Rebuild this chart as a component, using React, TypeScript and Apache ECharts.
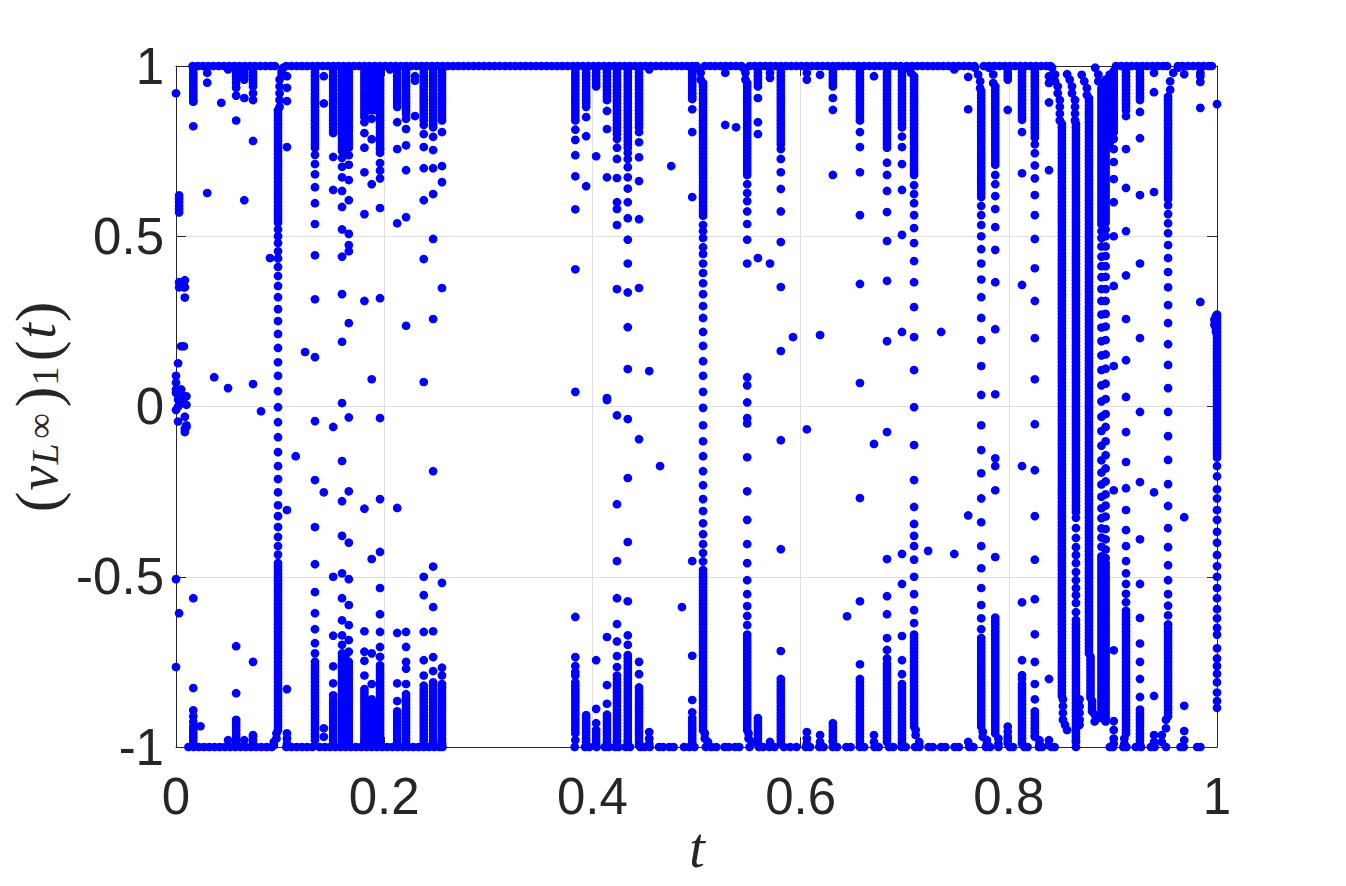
import React, { useEffect, useRef } from "react";
import * as echarts from "echarts";

const xTicks = [0, 0.2, 0.4, 0.6, 0.8, 1];
const yTicks = [-1, -0.5, 0, 0.5, 1];

// t values of the points sitting on the upper limit y = 1
const upperRunT = [
  .016,.021,.026,.031,.036,.041,.046,.051,.056,.061,.066,.071,.076,.081,.086,.091,.095,.106,.111,.116,.121,.126,.131,.136,.141,.146,.151,.156,.161,.166,.171,.176,.181,.186,.191,.196,.201,.206,.211,.216,.221,.226,.231,.236,.241,.246,.251,.256,.261,.266,.271,.276,.281,.286,.291,.296,.301,.306,.311,.316,.321,.326,.331,.336,.341,.346,.351,.356,.361,.366,.371,.376,.381,.386,.391,.396,.401,.406,.411,.416,.421,.426,.431,.436,.441,.446,.451,.456,.461,.466,.471,.476,.481,.486,.491,.496,.5,.508,.513,.518,.523,.528,.533,.538,.543,.551,.556,.561,.566,.571,.576,.581,.586,.591,.596,.601,.606,.611,.616,.621,.626,.631,.636,.641,.646,.651,.656,.661,.666,.671,.676,.681,.686,.691,.696,.702,.707,.712,.717,.722,.727,.732,.737,.742,.747,.752,.757,.762,.767,.776,.781,.786,.791,.796,.801,.806,.811,.816,.821,.826,.831,.836,.84,
  .903,.908,.913,.918,.923,.928,.933,.938,.943,.948,.952,.9625,.967,.972,.977,.982,.987,.992,.995,
];

// t values of the points sitting on the lower limit y = -1
const lowerRunT = [
  .012,.017,.022,.027,.032,.037,.042,.047,.052,.057,.062,.067,.072,.077,.082,.087,.092,.106,.111,.116,.121,.126,.131,
  .138,.143,.148,.153,.158,.163,.168,.173,.178,.183,.188,.193,.198,.203,.208,.213,.218,.223,.228,.233,.238,.243,.248,.253,.256,
  .383,.393,.397,.404,.412,.416,.422,.425,.432,.436,.446,.45,.455,.464,.468,.474,.478,.488,.493,.498,.509,.514,.519,.527,.531,.537,.541,.551,.56,.564,.57,.575,.584,.59,.596,.605,.609,.618,.622,.631,.635,.644,.648,.657,.661,.671,.675,.685,.689,.697,.701,.71,.714,.723,.727,.735,.739,.748,.752,.762,.766,.778,.782,.79,.801,.804,.815,.818,.829,.832,.841,.844,.8645,
  .897,.9,.91,.913,.922,.927,.9365,.94,.951,.965,.968,.981,.984,
];

// every strand is [t, y, y, ...]
const leftEdge = [
  [0,.92,.09,.07,.05,.04,-.01,-.507,-.765],
  [.003,.62,.61,.6,.59,.58,.57,.365,.35,-.607],
  [.002,.127,.02,0,-.044],
  [.005,.177,.05,.02,.01],
  [.0075,.36,.35,.177,.03,.01],
  [.0085,.371,.35,.32,-.075,-.065,-.03],
  [.01,.03,-.055,-.06,.005],
];

const firstBlock = [
  [.0166,.98,.96,.94,.92,.9,.895,.823,-.563,-.827,-.892,-.926,-.94,-.96,-.98],
  [.0235,-.939],
  [.03,.98,.951,.627],
  [.0367,.086],
  [.0435,.892],
  [.05,.99,.054,-.98],
  [.0578,.98,.96,.936,.913,.84,-.704,-.842,-.92,-.94,-.96,-.98],
  [.0656,.98,.96,.906,.606,-.98],
  [.074,.98,.96,.94,.9,.78,.066,-.75,-.965,-.98],
  [.0817,-.014],
  [.0903,.436],
  [.103,.995],
  [.1015,.985,.975],
  [.0995,.96,.94,.92,.9,.88],
  [.098,.86,.84,.82,.8,.78,.76,.74,.72,.7,.68,.66,.64,.62,.6,.58,.56,.54,.52,.5,.48,.456,.435,.41,.383,.354,.321,.286,.251,.213,.172,.13,.09,.045,-.002,-.046,-.09,-.134,-.175,-.213,-.252,-.29,-.322,-.354,-.383,-.41,-.435,-.46,-.48,-.5,-.52,-.54,-.56,-.58,-.6,-.62,-.64,-.66,-.68,-.7,-.72,-.74,-.76,-.78,-.8,-.82,-.84,-.86,-.88,-.9,-.92,-.94],
  [.0965,-.96,-.975],
  [.094,-.985,-.995],
  [.1066,.97,.936,.897,.762,-.304,-.83,-.96,-.975,-.99],
  [.115,-.146],
  [.124,.16],
  [.1335,.98,.96,.94,.92,.9,.88,.86,.84,.82,.8,.78,.76,.739,.712,.682,.644,.597,.536,.444,.315,.145,-.043,-.216,-.354,-.463,-.545,-.607,-.654,-.695,-.725,-.75,-.77,-.79,-.81,-.83,-.85,-.87,-.89,-.91,-.93,-.95,-.97,-.98],
  [.142,.97,.89,-.252,-.945,-.97],
  [.151,.98,.96,.94,.92,.9,.88,.86,.84,.82,.803,.733,.636,-.06,-.5,-.673,-.763,-.813,-.848,-.87,-.89,-.91,-.93,-.95,-.97,-.98],
  [.1595,.98,.96,.94,.92,.9,.88,.86,.84,.82,.8,.78,.76,.73,.704,.673,.633,.586,.52,.44,.33,.19,.01,-.16,-.278,-.38,-.49,-.563,-.628,-.672,-.7,-.725,-.745,-.765,-.785,-.805,-.825,-.845,-.865,-.885,-.905,-.925,-.945,-.965,-.985],
  [.1628,.98,.96,.94,.92,.9,.88,.86,.84,.82,.8,.78,.76,-.74,-.76,-.78,-.8,-.82,-.84,-.86,-.88,-.9,-.92,-.94,-.96,-.98],
  [.166,.98,.96,.94,.92,.9,.88,.86,.84,.82,.8,.78,.76,.738,.71,.665,.606,.507,.474,.456,.245,-.032,-.249,-.4,-.507,-.583,-.642,-.686,-.72,-.75,-.77,-.79,-.81,-.83,-.85,-.87,-.89,-.91,-.93,-.95,-.97,-.985],
  [.181,.98,.96,.94,.92,.9,.88,.86,.835,.803,.76,.688,.565,.31,-.3,-.66,-.72,-.747,-.79,-.83,-.85,-.87,-.89,-.91,-.93,-.95,-.97,-.985],
  [.1845,.98,.96,.94,.92,.9,.88,-.88,-.9,-.92,-.94,-.96,-.98],
  [.188,.98,.96,.94,.92,.9,.88,.845,.785,.653,.08,-.448,-.725,-.815,-.86,-.91,-.93,-.95,-.97,-.985],
  [.192,.98,.96,.94,.92,.9,.87,-.87,-.89,-.91,-.93,-.95,-.97],
  [.196,.98,.96,.94,.92,.9,.88,.86,.84,.82,.8,.78,.76,.745,.715,.693,.67,.583,.318,-.034,-.272,-.427,-.533,-.61,-.662,-.706,-.735,-.76,-.78,-.8,-.82,-.84,-.86,-.88,-.9,-.92,-.94,-.96,-.98],
  [.2055,.99],
  [.2125,.98,.96,.94,.92,.9,.88,.835,.756,.538,-.298,-.665,-.813,-.865,-.895,-.915,-.935,-.955,-.975],
  [.221,.98,.96,.94,.92,.9,.88,.86,.845,.815,.767,.694,.556,.237,-.662,-.706,-.75,-.77,-.815,-.845,-.865,-.885,-.905,-.925,-.945,-.965,-.985],
  [.2296,.97,.957,.853],
  [.238,.98,.96,.94,.92,.9,.88,.86,.84,.827,.8,.762,.7,.606,.433,.072,-.5,-.554,-.662,-.745,-.79,-.82,-.84,-.86,-.88,-.9,-.92,-.94,-.96,-.98],
  [.247,.98,.96,.94,.92,.9,.88,.86,.84,.82,.792,.753,.7,.624,.492,.257,-.19,-.47,-.589,-.66,-.736,-.777,-.81,-.83,-.85,-.87,-.89,-.91,-.93,-.95,-.97,-.985],
  [.2555,.98,.96,.94,.92,.9,.88,.86,.84,.806,.706,.659,.348,-.518,-.767,-.79,-.815,-.835,-.855,-.875,-.895,-.915,-.935,-.955,-.975,-.99],
];

const secondBlock = [
  [.3836,.98,.96,.94,.92,.9,.88,.86,.84,.813,.783,.738,.676,.579,.403,.043,-.618,-.736,-.762,-.78,-.81,-.83,-.85,-.87,-.89,-.91,-.93,-.95],
  [.394,.98,.96,.94,.92,.9,.88,.85,.794,.647,-.906,-.925,-.945,-.965,-.985],
  [.4036,.98,.96,.94,.735,-.745,-.888,-.93,-.96,-.98],
  [.414,.98,.96,.94,.92,.9,.868,.815,.673,.025,.019,-.677,-.818,-.873,-.905,-.925,-.945,-.965,-.985],
  [.4236,.98,.96,.94,.92,.9,.88,.86,.84,.82,.8,.786,.76,.727,.671,.6,.58,.533,.345,-.026,-.287,-.454,-.563,-.639,-.69,-.733,-.765,-.79,-.81,-.83,-.85,-.87,-.89,-.91,-.93,-.95,-.97,-.985],
  [.434,.98,.96,.94,.92,.9,.88,.86,.84,.82,.8,.78,.76,.727,.703,.673,.64,.6,.553,.49,.42,.335,.233,.11,-.037,-.21,-.398,-.572,-.672,-.7,-.73,-.75,-.77,-.79,-.81,-.83,-.85,-.87,-.89,-.91,-.93,-.95,-.97,-.985],
  [.4448,.98,.96,.94,.92,.9,.88,.86,.84,.82,.806,.776,.732,.662,.55,.348,-.096,-.75,-.786,-.825,-.845,-.865,-.885,-.905,-.925,-.945,-.965,-.985],
  [.4546,.99,.104,-.956,-.975,-.99],
  [.465,-.175],
  [.4757,.706],
  [.486,-.589],
  [.4959,.98,.96,.94,.92,.903,.873,.806,.615,-.454,-.732,-.862,-.898,-.925,-.945,-.965,-.985],
  [.5005,.995],
  [.504,.98,.96],
  [.5063,.94,.92,.9,.88,.86,.84,.82,.8,.78,.76,.74,.72,.7,.68,.66,.64,.62,.6,.58,.56,.533,.515,.495,.468,.448,.42,.392,.362,.33,.295,.26,.219,.178,.133,.09,.043,-.004,-.055,-.102,-.146,-.19,-.231,-.272,-.307,-.343,-.375,-.404,-.43,-.455,-.48,-.5,-.52,-.54,-.56,-.58,-.6,-.62,-.64,-.66,-.68,-.7,-.72,-.74,-.76,-.78,-.8,-.82,-.84,-.86,-.88,-.9,-.92,-.94],
  [.508,-.96,-.975],
  [.511,-.985,-.995],
];

const thirdBlock = [
  [.5276,.98,.827],
  [.538,.82],
  [.5447,.995],
  [.547,.98,.96],
  [.5487,.94,.92,.9,.88,.86,.84,.82,.8,.78,.76,.74,.72,.7,.68,.653,.627,.603,.573,.536,.49,.42,.086,.062,.012,-.034,-.05,-.149,-.249,-.333,-.404,-.46,-.51,-.551,-.586,-.615,-.642,-.67,-.69,-.71,-.73,-.75,-.77,-.79,-.81,-.83,-.85,-.87,-.89,-.91,-.93,-.95],
  [.55,-.96,-.975],
  [.553,-.985],
  [.559,.98,.96,.94,.906,.835,.8,.436,-.915,-.935,-.955,-.975,-.99],
  [.5706,.98,.965,.42,-.985],
  [.581,.98,.96,.94,.92,.9,.88,.86,.84,.82,.8,.78,.756,.727,.688,.639,.573,.483,.351,.163,-.099,-.419,-.718,-.8,-.82,-.84,-.86,-.88,-.9,-.92,-.94,-.96,-.98],
  [.5927,.204],
  [.606,.98,.96,-.067,-.956,-.975,-.99],
  [.6187,.974,.21,-.965,-.985],
  [.631,.98,.96,.94,.906,.871,.68,-.93,-.95,-.97,-.985],
  [.6446,-.616],
  [.657,.98,.96,.94,.92,.9,.88,.86,.84,.806,.762,.688,.562,.36,.069,-.269,-.572,-.757,-.8,-.82,-.84,-.86,-.88,-.9,-.92,-.94,-.96,-.98],
  [.6705,.97,-.11,-.965,-.985],
  [.683,.98,.96,.94,.92,.9,.88,.86,.84,.82,.8,.78,.76,.716,.68,.633,.571,.486,.369,.192,-.075,-.448,-.557,-.61,-.68,-.715,-.74,-.765,-.785,-.805,-.825,-.845,-.865,-.885,-.905,-.925,-.945,-.965,-.985],
  [.6974,.98,.96,.94,.92,.9,.88,.86,.84,.82,.793,.762,.712,.636,.504,.219,-.433,-.521,-.674,-.745,-.786,-.815,-.835,-.855,-.875,-.895,-.915,-.935,-.955,-.975,-.99],
];

const fourthBlock = [
  [.703,.995],
  [.706,.98],
  [.709,.96,.94,.92,.9,.88,.86,.84,.82,.8,.78,.76,.74,.72,.7,.68,.65,.624,.597,.562,.524,.48,.427,.365,.292,.204,.107,-.002,-.113,-.216,-.295,-.345,-.38,-.41,-.45,-.5,-.551,-.598,-.636,-.67,-.69,-.71,-.73,-.75,-.77,-.79,-.81,-.83,-.85,-.87,-.89,-.91,-.93],
  [.7105,-.95,-.965],
  [.714,-.985,-.995],
  [.7225,-.424],
  [.735,.219],
  [.7476,.99,-.433],
  [.761,.968,.873,-.32,-.985],
  [.7675,.995],
  [.7705,.975],
  [.7725,.955,.935],
  [.7735,.915,.895,.875,.855,.835,.815,.795,.775,.755,.735,.715,.695,.675,.655,.635,.615,.589,.562,.533,.5,.462,.42,.373,.321,.26,.195,.119,.034,-.055,-.128,-.196,-.27,-.34,-.41,-.475,-.533,-.583,-.622,-.654,-.68,-.7,-.72,-.74,-.76,-.78,-.8,-.82,-.84,-.86,-.88,-.9,-.92,-.94],
  [.775,-.955,-.97],
  [.779,-.98,-.99],
  [.781,.995],
  [.785,.975,.95],
  [.787,.93,.91,.89,.87,.85,.83,.81,.79,.77,.75,.73,.71,.68,.653,.618,.58,.527,.46,.365,.227,.036,-.152,-.175,-.246,-.442,-.62,-.64,-.66,-.68,-.7,-.72,-.74,-.76,-.78,-.8,-.82,-.84,-.86,-.88,-.9,-.92,-.94,-.96],
  [.79,-.975,-.99],
  [.799,.98,.96,.871,-.94,-.97,-.99],
  [.8127,.98,.96,.94,.92,.9,.88,.86,.842,.806,.685,.357,-.175,-.575,-.745,-.789,-.815,-.835,-.855,-.875,-.895,-.915,-.935,-.955,-.975,-.99],
  [.825,.98,.96,.94,.92,.9,.88,.86,.84,.82,.8,.77,.744,.708,.67,.621,.562,.492,.406,.31,.201,.08,-.052,-.187,-.322,-.45,-.566,-.669,-.75,-.815,-.86,-.895,-.915,-.935,-.955,-.97],
  [.8295,-.98,-.99],
  [.8386,.97,.95,.893,.694,-.8,-.98,-.995],
];

const fastDescentA = [
  [.8415,.995],
  [.8444,.975,.955],
  [.847,.94,.92],
  [.849,.9,.88,.86,.84],
  [.851,.82,.8,.78,.76,.74,.72,.7,.68,.66,.64,.62,.6,.58,.56,.54,.52,.5,.48,.46,.44,.42,.4,.38,.36,.34,.32,.3,.28,.26,.24,.22,.2,.18,.16,.14,.12,.1,.08,.06,.04,.02,0,-.02,-.04,-.06,-.08,-.1,-.12,-.14,-.16,-.18,-.2,-.22,-.24,-.26,-.28,-.3,-.32,-.34,-.36,-.38,-.4,-.42,-.44,-.46,-.48,-.5,-.52,-.54,-.56,-.58,-.6,-.62,-.64,-.66,-.68,-.7,-.72,-.74,-.76,-.78,-.8,-.82,-.84],
  [.852,-.86,-.88,-.9,-.92],
  [.854,-.935],
  [.856,-.95],
];

const fastDescentB = [
  [.856,.976],
  [.8585,.96],
  [.8607,.94,.92],
  [.8636,.9,.88,.86,.84],
  [.8645,.82,.8,.78,.76,.74,.72,.7,.68,.66,.64,.62,.6,.58,.56,.54,.52,.5,.48,.46,.44,.42,.4,.38,.36,.34,.32,.3,.28,.26,.24,.22,.2,.18,.16,.14,.12,.1,.08,.06,.04,.02,0,-.02,-.04,-.06,-.08,-.1,-.12,-.14,-.16,-.18,-.2,-.22,-.24,-.26,-.28,-.3,-.327,-.357,-.386,-.413,-.436,-.46,-.486,-.51,-.533,-.554,-.577,-.604,-.627,-.65,-.67,-.69,-.71,-.73,-.75,-.77,-.79,-.81,-.83,-.85,-.87,-.89,-.91,-.93,-.95,-.97,-.985],
  [.868,-.86,-.88,-.9,-.92,-.935],
];

const fastDescentC = [
  [.87,.974],
  [.8725,.955],
  [.875,.935,.915],
  [.877,.895,.875,.855,.835,.815,.795,.775,.755,.735,.715,.695,.675,.655,.635,.615,.595,.575,.555,.535,.515,.495,.475,.455,.435,.415,.395,.375,.355,.335,.315,.295,.275,.255,.235,.215,.195,.175,.155,.135,.115,.095,.075,.055,.035,.015,-.005,-.025,-.045,-.065,-.085,-.105,-.125,-.145,-.165,-.185,-.205,-.225,-.245,-.265,-.285,-.305,-.325,-.345,-.365,-.385,-.405,-.425,-.445,-.465,-.485,-.505,-.525,-.545,-.565,-.585,-.605,-.625,-.645,-.665,-.685,-.705,-.725],
  [.8785,-.745,-.765,-.785,-.805,-.825,-.845],
  [.88,-.865,-.885],
  [.8825,-.905,-.925],
];

const twinColumnLeft = [
  [.883,.995],
  [.886,.975,.955],
  [.889,.935,.915,.895,.875,.855,.835,.815,.795,.775,.755,.735,.715,.695,.675,.655,.635,.615,.595,.575,.555,.535,.515,.495,.47,.44,.412,.38,.345,.31,.27,.232,.192,.15,.107,.062,.015,-.03,-.072,-.115,-.158,-.194,-.229,-.265,-.299,-.328,-.358,-.385,-.412,-.44,-.46,-.48,-.5,-.52,-.54,-.56,-.58,-.6,-.62,-.64,-.66,-.68,-.7,-.72,-.74,-.76,-.78,-.8,-.82,-.84,-.86,-.88,-.9,-.915],
];

const twinColumnRight = [
  [.893,.96,.94,.92,.9,.88,.86,.84,.82,.8,.78,.76,.74,.72,.7,.68,.66,.64,.62,.6,.58,.56,.54,.52,.5,.47,.442,.412,.381,.345,.31,.272,.235,.195,.153,.111,.067,.022,-.022,-.06,-.102,-.143,-.182,-.22,-.258,-.291,-.323,-.36,-.39,-.42,-.445,-.47,-.49,-.51,-.53,-.55,-.57,-.59,-.61,-.63,-.65,-.67,-.69,-.71,-.73,-.75,-.77,-.79,-.81,-.83,-.85,-.87,-.89,-.91,-.925],
  [.897,.975,.955,.935,.915,.895,.875,.855,.835,.815,.795,.775],
  [.9008,.985,.965,.945,.925,.905,.885,.865,.845,.825,.805,.786,.756,.718,.668,.6,.5,.354,.119,-.246,-.716,-.924,-.95,-.975,-.99],
];

const lastBlock = [
  [.9126,.98,.96,.94,.92,.9,.88,.853,.756,.642,.515,.385,.257,.136,.028,-.075,-.163,-.24,-.304,-.363,-.41,-.454,-.49,-.521,-.55,-.575,-.6,-.62,-.64,-.66,-.68,-.7,-.72,-.74,-.76,-.78,-.8,-.82,-.84,-.86,-.88,-.9,-.92,-.94,-.96],
  [.911,-.975,-.99],
  [.926,.98,.96,.94,.92,.9,.865,.788,.621,.42,.201,-.016,-.222,-.39,-.521,-.621,-.696,-.75,-.8,-.853,-.89,-.91,-.93,-.95,-.97,-.99],
  [.9395,.98,.923,.63,-.252,-.85,-.965,-.985],
  [.9625,.995],
  [.958,.98],
  [.955,.955,.93],
  [.953,.91,.89,.87,.85,.83,.81,.79,.77,.75,.73,.71,.69,.67,.65,.63,.61,.591,.565,.538,.509,.474,.436,.395,.35,.298,.245,.183,.122,.054,-.016,-.087,-.157,-.228,-.292,-.357,-.413,-.466,-.51,-.551,-.585,-.613,-.64,-.66,-.68,-.7,-.72,-.74,-.76,-.78,-.8,-.82,-.84,-.86,-.88,-.9],
  [.951,-.92,-.945],
  [.947,-.965,-.985],
  [.9685,.976,-.325,-.879,-.953,-.98],
  [.984,.98,.97,.953,.877,.307],
  [.9975,.255,.24],
  [.999,.265,.25,.23,.22],
  [1,.888,.27,.25,.23,.21,.19,.17,.15,.13,.11,.09,.07,.05,.03,.01,-.01,-.03,-.05,-.07,-.09,-.11,-.13,-.15,-.175,-.205,-.243,-.27,-.304,-.333,-.368,-.4,-.436,-.469,-.5,-.533,-.563,-.595,-.622,-.65,-.67,-.71,-.74,-.762,-.785,-.81,-.84,-.865,-.885],
];

// further points read from the solid stretches of the strands
const solidStretchesLeft = [
  [.0166,.99,.97,.95,.93,.91,-.91,-.95,-.97,-.99],
  [.0578,.99,.97,.95,-.93,-.95,-.97,-.99],
  [.0656,.99,.97],
  [.074,.99,.97,.95,.92,-.97,-.99],
  [.098,.87,.85,.83,.81,.79,.77,.75,.73,.71,.69,.67,.65,.63,.61,.59,.57,.55,-.47,-.49,-.51,-.53,-.55,-.57,-.59,-.61,-.63,-.65,-.67,-.69,-.71,-.73,-.75,-.77,-.79,-.81,-.83,-.85,-.87,-.89,-.91,-.93,-.95],
  [.1335,.99,.97,.95,.93,.91,.89,.87,.85,.83,.81,.79,.77,-.76,-.78,-.8,-.82,-.84,-.86,-.88,-.9,-.92,-.94,-.96],
  [.151,.99,.97,.95,.93,.91,.89,.87,.85,.83,.81,-.86,-.88,-.9,-.92,-.94,-.96,-.99],
  [.1595,.99,.97,.95,.93,.91,.89,.87,.85,.83,.81,.79,.77,.75,-.735,-.755,-.775,-.795,-.815,-.835,-.855,-.875,-.895,-.915,-.935,-.955,-.975],
  [.1628,.99,.97,.95,.93,.91,.89,.87,.85,.83,.81,.79,.77,.75,-.73,-.75,-.77,-.79,-.81,-.83,-.85,-.87,-.89,-.91,-.93,-.95,-.97,-.99],
  [.166,.99,.97,.95,.93,.91,.89,.87,.85,.83,.81,.79,.77,-.76,-.78,-.8,-.82,-.84,-.86,-.88,-.9,-.92,-.94,-.96,-.98],
  [.181,.99,.97,.95,.93,.91,.89,.87,.85,-.84,-.86,-.88,-.9,-.92,-.94,-.96,-.98],
  [.1845,.99,.97,.95,.93,.91,.89,.87,-.89,-.91,-.93,-.95,-.97,-.99],
  [.188,.99,.97,.95,.93,.91,.89,.87,-.92,-.94,-.96,-.98],
  [.192,.99,.97,.95,.93,.91,.89,-.88,-.9,-.92,-.94,-.96,-.98],
  [.196,.99,.97,.95,.93,.91,.89,.87,.85,.83,.81,.79,.77,.755,-.77,-.79,-.81,-.83,-.85,-.87,-.89,-.91,-.93,-.95,-.97,-.99],
  [.2125,.99,.97,.95,.93,.91,.89,-.905,-.925,-.945,-.965,-.985],
  [.221,.99,.97,.95,.93,.91,.89,.87,-.855,-.875,-.895,-.915,-.935,-.955,-.975],
  [.238,.99,.97,.95,.93,.91,.89,.87,.85,-.83,-.85,-.87,-.89,-.91,-.93,-.95,-.97,-.99],
  [.247,.99,.97,.95,.93,.91,.89,.87,.85,.83,-.82,-.84,-.86,-.88,-.9,-.92,-.94,-.96,-.98],
  [.2555,.99,.97,.95,.93,.91,.89,.87,.85,-.825,-.845,-.865,-.885,-.905,-.925,-.945,-.965,-.985],
  [.3836,.99,.97,.95,.93,.91,.89,.87,.85,-.79,-.82,-.84,-.86,-.88,-.9,-.92,-.94,-.96,-.98],
  [.394,.99,.97,.95,.93,.91,.89,-.915,-.935,-.955,-.975],
  [.4036,.99,.97,.95,-.95,-.97,-.99],
  [.414,.99,.97,.95,.93,.91,-.915,-.935,-.955,-.975,-.995],
  [.4236,.99,.97,.95,.93,.91,.89,.87,.85,.83,.81,-.8,-.82,-.84,-.86,-.88,-.9,-.92,-.94,-.96,-.98],
  [.434,.99,.97,.95,.93,.91,.89,.87,.85,.83,.81,.79,.77,.745,-.74,-.76,-.78,-.8,-.82,-.84,-.86,-.88,-.9,-.92,-.94,-.96,-.98],
  [.4448,.99,.97,.95,.93,.91,.89,.87,.85,.83,-.835,-.855,-.875,-.895,-.915,-.935,-.955,-.975,-.995],
  [.4959,.99,.97,.95,.93,.91,-.915,-.935,-.955,-.975,-.995],
];

const solidStretchesMiddle = [
  [.5063,.95,.93,.91,.89,.87,.85,.83,.81,.79,.77,.75,.73,.71,.69,.67,.65,.63,.61,.59,.57,-.49,-.51,-.53,-.55,-.57,-.59,-.61,-.63,-.65,-.67,-.69,-.71,-.73,-.75,-.77,-.79,-.81,-.83,-.85,-.87,-.89,-.91,-.93,-.95],
  [.5487,.95,.93,.91,.89,.87,.85,.83,.81,.79,.77,.75,.73,.71,.69,-.68,-.7,-.72,-.74,-.76,-.78,-.8,-.82,-.84,-.86,-.88,-.9,-.92,-.94],
  [.559,.99,.97,.95,-.925,-.945,-.965,-.985],
  [.581,.99,.97,.95,.93,.91,.89,.87,.85,.83,.81,.79,.77,-.81,-.83,-.85,-.87,-.89,-.91,-.93,-.95,-.97,-.99],
  [.631,.99,.97,.95,-.94,-.96,-.98],
  [.657,.99,.97,.95,.93,.91,.89,.87,.85,-.81,-.83,-.85,-.87,-.89,-.91,-.93,-.95,-.97,-.99],
  [.683,.99,.97,.95,.93,.91,.89,.87,.85,.83,.81,.79,.77,-.755,-.775,-.795,-.815,-.835,-.855,-.875,-.895,-.915,-.935,-.955,-.975],
  [.6974,.99,.97,.95,.93,.91,.89,.87,.85,.83,-.825,-.845,-.865,-.885,-.905,-.925,-.945,-.965,-.985],
  [.709,.97,.95,.93,.91,.89,.87,.85,.83,.81,.79,.77,.75,.73,.71,.69,-.68,-.7,-.72,-.74,-.76,-.78,-.8,-.82,-.84,-.86,-.88,-.9,-.92,-.94],
  [.7735,.925,.905,.885,.865,.845,.825,.805,.785,.765,.745,.725,.705,.685,.665,.645,.625,-.69,-.71,-.73,-.75,-.77,-.79,-.81,-.83,-.85,-.87,-.89,-.91,-.93],
  [.787,.94,.92,.9,.88,.86,.84,.82,.8,.78,.76,.74,.72,-.63,-.65,-.67,-.69,-.71,-.73,-.75,-.77,-.79,-.81,-.83,-.85,-.87,-.89,-.91,-.93,-.95],
  [.799,.99,.97,-.955,-.98],
  [.8127,.99,.97,.95,.93,.91,.89,.87,.85,-.8,-.825,-.845,-.865,-.885,-.905,-.925,-.945,-.965,-.985],
  [.825,.99,.97,.95,.93,.91,.89,.87,.85,.83,.81,.79,-.905,-.925,-.945,-.965],
];

const solidFastA = [
  [.851,.83,.81,.79,.77,.75,.73,.71,.69,.67,.65,.63,.61,.59,.57,.55,.53,.51,.49,.47,.45,.43,.41,.39,.37,.35,.33,.31,.29,.27,.25,.23,.21,.19,.17,.15,.13,.11,.09,.07,.05,.03,.01,-.01,-.03,-.05,-.07,-.09,-.11,-.13,-.15,-.17,-.19,-.21,-.23,-.25,-.27,-.29,-.31,-.33,-.35,-.37,-.39,-.41,-.43,-.45,-.47,-.49,-.51,-.53,-.55,-.57,-.59,-.61,-.63,-.65,-.67,-.69,-.71,-.73,-.75,-.77,-.79,-.81,-.83,-.85],
];

const solidFastB = [
  [.8645,.83,.81,.79,.77,.75,.73,.71,.69,.67,.65,.63,.61,.59,.57,.55,.53,.51,.49,.47,.45,.43,.41,.39,.37,.35,.33,.31,.29,.27,.25,.23,.21,.19,.17,.15,.13,.11,.09,.07,.05,.03,.01,-.01,-.03,-.05,-.07,-.09,-.11,-.13,-.15,-.17,-.19,-.21,-.23,-.25,-.27,-.29,-.31,-.64,-.66,-.68,-.7,-.72,-.74,-.76,-.78,-.8,-.82,-.84,-.86,-.88,-.9,-.92,-.94,-.96,-.98],
];

const solidFastC = [
  [.877,.905,.885,.865,.845,.825,.805,.785,.765,.745,.725,.705,.685,.665,.645,.625,.605,.585,.565,.545,.525,.505,.485,.465,.445,.425,.405,.385,.365,.345,.325,.305,.285,.265,.245,.225,.205,.185,.165,.145,.125,.105,.085,.065,.045,.025,.005,-.015,-.035,-.055,-.075,-.095,-.115,-.135,-.155,-.175,-.195,-.215,-.235,-.255,-.275,-.295,-.315,-.335,-.355,-.375,-.395,-.415,-.435,-.455,-.475,-.495,-.515,-.535,-.555,-.575,-.595,-.615,-.635,-.655,-.675,-.695,-.715],
  [.8785,-.735,-.755,-.775,-.795,-.815,-.835,-.855],
  [.88,-.875,-.895],
];

const solidTwins = [
  [.889,.925,.905,.885,.865,.845,.825,.805,.785,.765,.745,.725,.705,.685,.665,.645,.625,.605,.585,.565,.545,-.45,-.47,-.49,-.51,-.53,-.55,-.57,-.59,-.61,-.63,-.65,-.67,-.69,-.71,-.73,-.75,-.77,-.79,-.81,-.83,-.85,-.87,-.89,-.91],
  [.893,.95,.93,.91,.89,.87,.85,.83,.81,.79,.77,.75,.73,.71,.69,.67,.65,.63,.61,.59,.57,.55,-.46,-.48,-.5,-.52,-.54,-.56,-.58,-.6,-.62,-.64,-.66,-.68,-.7,-.72,-.74,-.76,-.78,-.8,-.82,-.84,-.86,-.88,-.9,-.92],
  [.897,.965,.945,.925,.905,.885,.865,.845,.825,.805,.785],
  [.9008,.975,.955,.935,.915,.895,.875,.855,.835,.815],
  [.9126,.99,.97,.95,.93,.91,.89,.87,-.61,-.63,-.65,-.67,-.69,-.71,-.73,-.75,-.77,-.79,-.81,-.83,-.85,-.87,-.89,-.91,-.93,-.95],
  [.926,.99,.97,.95,.93,.91,-.9,-.92,-.94,-.96,-.98],
  [.953,.9,.88,.86,.84,.82,.8,.78,.76,.74,.72,.7,.68,.66,.64,.62,-.65,-.67,-.69,-.71,-.73,-.75,-.77,-.79,-.81,-.83,-.85,-.87,-.89,-.91],
  [1,.26,.24,.22,.2,.18,.16,.14,.12,.1,.08,.06,.04,.02,0,-.02,-.04,-.06,-.08,-.1,-.12,-.14],
];

const strands = [
  ...leftEdge, ...firstBlock, ...secondBlock, ...thirdBlock, ...fourthBlock,
  ...fastDescentA, ...fastDescentB, ...fastDescentC,
  ...twinColumnLeft, ...twinColumnRight, ...lastBlock,
  ...solidStretchesLeft, ...solidStretchesMiddle, ...solidFastA, ...solidFastB, ...solidFastC, ...solidTwins,
];

const points: number[][] = [];
upperRunT.forEach((t) => points.push([t, 1]));
lowerRunT.forEach((t) => points.push([t, -1]));
strands.forEach(([t, ...ys]) => ys.forEach((y) => points.push([t, y])));

const INK = "#262626";
const MATH = "'Liberation Serif', serif";

function mathText(text: string, x: number, y: number, size: number, italic: boolean, rotated: boolean) {
  return {
    type: "text",
    x,
    y,
    rotation: rotated ? Math.PI / 2 : 0,
    silent: true,
    style: {
      text,
      fill: INK,
      font: `${italic ? "italic " : ""}${size}px ${MATH}`,
      align: "center",
      verticalAlign: "middle",
    },
  };
}

export default function App() {
  const ref = useRef<HTMLDivElement>(null);
  useEffect(() => {
    const chart = echarts.init(ref.current!, undefined, { renderer: "svg" });
    const line = { show: true, onZero: false, lineStyle: { color: INK, width: 1 } };
    const tick = { show: true, inside: true, length: 10, lineStyle: { color: INK, width: 1 } };
    const label = {
      color: INK,
      fontFamily: "'Liberation Sans', sans-serif",
      fontSize: 51,
    };
    const split = { show: true, lineStyle: { color: "#dfdfdf", width: 1 } };
    chart.setOption({
      animation: false,
      backgroundColor: "#ffffff",
      grid: { left: 176, top: 66, width: 1041, height: 681, containLabel: false },
      xAxis: [
        {
          type: "value", min: 0, max: 1, interval: 0.2, position: "bottom",
          axisLine: line, axisTick: tick, splitLine: split,
          axisLabel: { ...label, margin: 24, formatter: (v: number) => String(+v.toFixed(1)) },
        },
        {
          type: "value", min: 0, max: 1, interval: 0.2, position: "top",
          axisLine: line, axisTick: tick, splitLine: { show: false }, axisLabel: { show: false },
        },
      ],
      yAxis: [
        {
          type: "value", min: -1, max: 1, interval: 0.5, position: "left",
          axisLine: line, axisTick: tick, splitLine: split,
          axisLabel: { ...label, margin: 12, formatter: (v: number) => String(v) },
        },
        {
          type: "value", min: -1, max: 1, interval: 0.5, position: "right",
          axisLine: line, axisTick: tick, splitLine: { show: false }, axisLabel: { show: false },
        },
      ],
      series: [
        {
          type: "scatter",
          xAxisIndex: 0,
          yAxisIndex: 0,
          data: points,
          symbol: "circle",
          symbolSize: 8.7,
          clip: false,
          silent: true,
          progressive: 0,
          large: false,
          itemStyle: { color: "#0000ff", opacity: 1 },
        },
      ],
      graphic: [
        mathText("t", 697, 848, 56, true, false),
        mathText("(", 37, 502, 62, false, true),
        mathText("v", 38, 478, 56, true, true),
        mathText("L", 45, 454, 38, true, true),
        mathText("∞", 40, 426, 36, false, true),
        mathText(")", 37, 397, 62, false, true),
        mathText("1", 45, 376, 38, false, true),
        mathText("(", 37, 351, 62, false, true),
        mathText("t", 36, 331, 56, true, true),
        mathText(")", 37, 312, 62, false, true),
      ],
    });
    return () => chart.dispose();
  }, []);
  return <div ref={ref} style={{ position: "fixed", left: 0, top: 0, width: 1346, height: 886 }} />;
}
